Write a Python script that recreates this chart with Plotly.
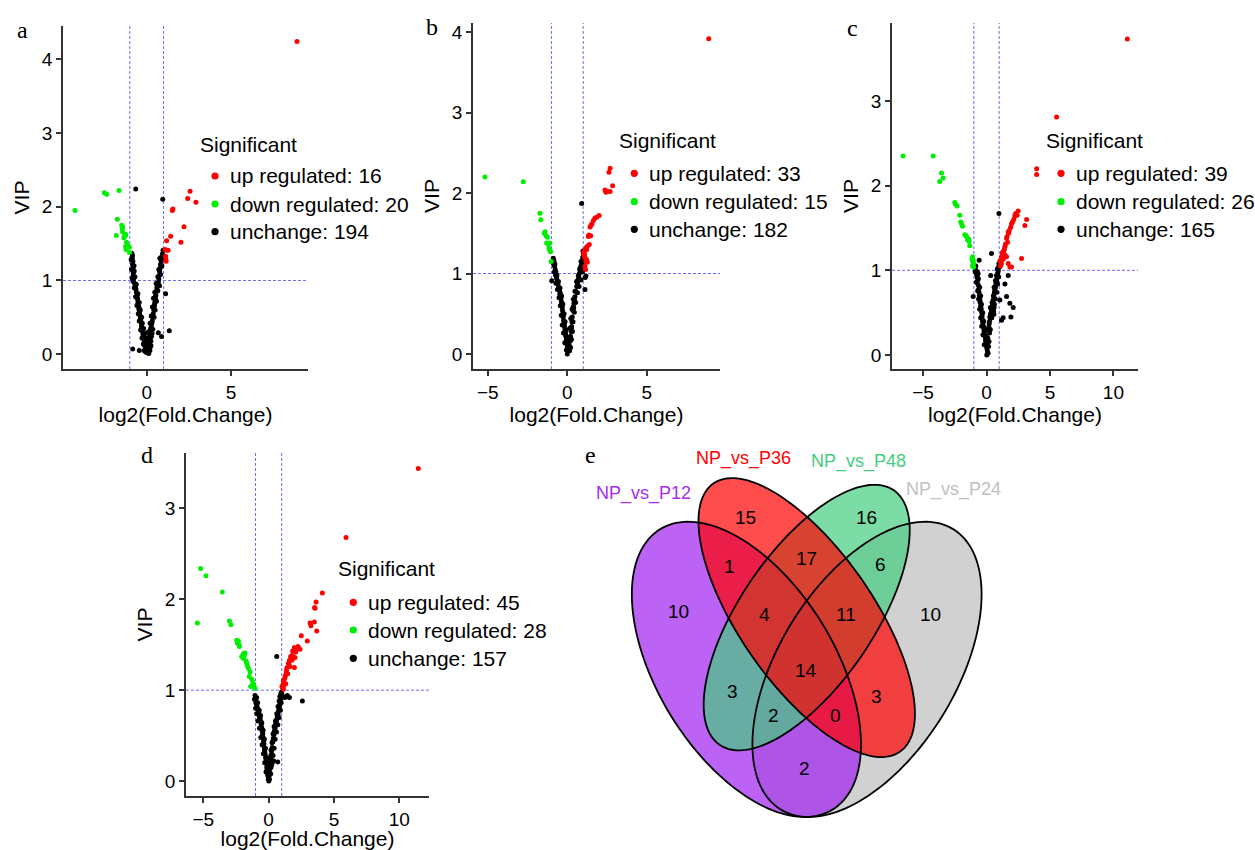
import math
import plotly.graph_objects as go

# ---------------- data ----------------
panel_letters = ["a", "b", "c", "d"]
up_counts = [16, 33, 39, 45]
down_counts = [20, 15, 26, 28]
unchange_counts = [194, 182, 165, 157]

# panel a
a_up_x = [8.91, 2.57, 2.43, 2.92, 1.52, 1.55, 2.21, 1.42, 2.03, 1.18, 1.15, 1.27, 1.13, 1.15, 1.09, 1.12]
a_up_y = [4.24, 2.21, 2.11, 2.06, 1.95, 1.97, 1.73, 1.60, 1.52, 1.54, 1.41, 1.41, 1.29, 1.26, 1.42, 1.33]
a_down_x = [-4.25, -2.51, -2.37, -1.64, -1.74, -1.48, -1.43, -1.80, -1.43, -1.31, -1.23, -1.35, -1.25, -1.23, -1.03, -1.02, -1.45, -1.30, -1.10, -1.20]
a_down_y = [1.95, 2.19, 2.17, 2.22, 1.83, 1.75, 1.73, 1.61, 1.66, 1.60, 1.62, 1.58, 1.46, 1.42, 1.45, 1.38, 1.70, 1.63, 1.47, 1.52]
a_unchanged = [
    (-0.65, 2.24), (0.95, 2.10), (1.12, 0.82), (1.34, 0.32), (0.88, 0.24), (-0.83, 0.07), (-0.44, 0.05), (0.69, 0.29),
    (-0.88, 1.37), (-0.84, 1.34), (-0.86, 1.30), (-0.82, 1.26), (-0.84, 1.22), (-0.80, 1.18), (-0.83, 1.14), (-0.79, 1.10),
    (-0.81, 1.06), (-0.77, 1.02), (-0.80, 0.99), (-0.72, 0.96), (-0.68, 0.92), (-0.64, 0.88), (-0.61, 0.84), (-0.58, 0.79),
    (-0.55, 0.75), (-0.52, 0.70), (-0.49, 0.66), (-0.46, 0.61), (-0.43, 0.57), (-0.40, 0.53), (-0.37, 0.48), (-0.34, 0.44),
    (-0.31, 0.40), (-0.28, 0.35), (-0.25, 0.31), (-0.22, 0.27), (-0.18, 0.23), (-0.15, 0.19), (-0.11, 0.15), (-0.08, 0.11),
    (-0.04, 0.08), (0.00, 0.05), (0.04, 0.02), (-0.36, 0.50), (-0.30, 0.37), (-0.20, 0.25), (-0.12, 0.12), (-0.45, 0.63),
    (-0.56, 0.77), (-0.66, 0.90), (0.02, 0.10), (0.08, 0.06), (-0.06, 0.03),
    (-0.92, 1.28), (-0.75, 1.20), (-0.90, 1.15), (-0.74, 1.13), (-0.86, 1.03), (-0.70, 1.05), (-0.62, 0.95), (-0.74, 0.90),
    (-0.52, 0.82), (-0.66, 0.78), (-0.44, 0.70), (-0.58, 0.66), (-0.38, 0.60), (-0.50, 0.55), (-0.30, 0.50), (-0.44, 0.45),
    (-0.26, 0.42), (-0.36, 0.33), (-0.18, 0.35), (-0.28, 0.22), (-0.10, 0.28), (-0.20, 0.14), (-0.02, 0.18), (0.10, 0.15),
    (0.22, 0.10), (0.25, 0.18), (-0.15, 0.05), (0.12, 0.01), (0.28, 0.24),
    (0.97, 1.41), (0.93, 1.36), (0.88, 1.32), (0.85, 1.27), (0.82, 1.22), (0.80, 1.17), (0.77, 1.12), (0.75, 1.07),
    (0.72, 1.02), (0.69, 0.98), (0.64, 0.94), (0.60, 0.90), (0.57, 0.85), (0.54, 0.80), (0.51, 0.75), (0.48, 0.70),
    (0.45, 0.65), (0.42, 0.60), (0.39, 0.55), (0.36, 0.50), (0.33, 0.45), (0.29, 0.40), (0.25, 0.36), (0.21, 0.31),
    (0.18, 0.27), (0.14, 0.22), (0.11, 0.18), (0.13, 0.13), (0.16, 0.09), (0.19, 0.05), (0.91, 1.29), (0.66, 0.96),
    (0.46, 0.67), (0.30, 0.42), (0.86, 1.20), (0.52, 0.78), (0.23, 0.34),
    (1.00, 1.33), (0.78, 1.30), (0.90, 1.20), (0.72, 1.15), (0.82, 1.08), (0.66, 1.05), (0.76, 0.93), (0.56, 0.96),
    (0.66, 0.86), (0.48, 0.84), (0.58, 0.72), (0.40, 0.76), (0.50, 0.60), (0.34, 0.64), (0.44, 0.50), (0.27, 0.52),
    (0.36, 0.34), (0.20, 0.42), (0.32, 0.28), (0.08, 0.30), (0.25, 0.12), (0.05, 0.22),
]

# panel b
b_up_x = [8.89, 2.69, 2.62, 2.85, 2.37, 2.52, 2.69, 2.43, 1.85, 1.74, 1.64, 1.49, 1.43, 1.36, 1.47, 1.32, 1.38, 1.26, 1.22, 1.11, 1.05, 1.01, 1.07, 1.13, 1.22, 1.17, 1.26, 1.11, 1.15, 2.00, 1.55, 1.08, 1.18]
b_up_y = [3.92, 2.31, 2.26, 2.09, 2.04, 2.02, 2.02, 2.01, 1.70, 1.69, 1.66, 1.60, 1.58, 1.48, 1.47, 1.46, 1.36, 1.34, 1.30, 1.29, 1.27, 1.25, 1.22, 1.19, 1.17, 1.15, 1.14, 1.09, 1.05, 1.72, 1.62, 1.24, 1.32]
b_down_x = [-5.18, -2.77, -1.72, -1.67, -1.40, -1.34, -1.25, -1.30, -1.19, -1.09, -1.15, -1.05, -1.02, -1.45, -1.10]
b_down_y = [2.20, 2.14, 1.75, 1.67, 1.52, 1.47, 1.45, 1.38, 1.36, 1.38, 1.31, 1.27, 1.15, 1.50, 1.29]
b_unchanged = [
    (0.90, 1.87), (-0.98, 0.91), (1.11, 0.80), (1.17, 0.97), (1.12, 0.95),
    (-0.88, 1.19), (-0.84, 1.16), (-0.86, 1.12), (-0.80, 1.09), (-0.76, 1.05), (-0.72, 1.02), (-0.74, 0.98), (-0.68, 0.94),
    (-0.63, 0.90), (-0.58, 0.86), (-0.55, 0.82), (-0.50, 0.79), (-0.45, 0.76), (-0.42, 0.73), (-0.40, 0.69), (-0.37, 0.65),
    (-0.34, 0.62), (-0.32, 0.58), (-0.30, 0.54), (-0.28, 0.50), (-0.26, 0.46), (-0.24, 0.42), (-0.21, 0.38), (-0.18, 0.34),
    (-0.15, 0.30), (-0.12, 0.26), (-0.09, 0.22), (-0.06, 0.18), (-0.03, 0.14), (0.00, 0.10), (0.03, 0.07), (0.06, 0.04),
    (0.00, 0.00), (-0.20, 0.36), (-0.27, 0.48), (-0.35, 0.60), (-0.47, 0.74), (-0.10, 0.24), (-0.02, 0.12), (0.09, 0.06),
    (-0.92, 1.14), (-0.78, 1.12), (-0.82, 1.02), (-0.66, 0.98), (-0.72, 0.88), (-0.56, 0.90), (-0.62, 0.80), (-0.46, 0.82),
    (-0.52, 0.70), (-0.36, 0.72), (-0.44, 0.60), (-0.28, 0.62), (-0.38, 0.48), (-0.20, 0.50), (-0.32, 0.36), (-0.14, 0.40),
    (-0.24, 0.26), (-0.08, 0.30), (-0.16, 0.14), (0.02, 0.20), (-0.06, 0.05), (0.10, 0.12),
    (1.01, 1.23), (0.97, 1.20), (0.93, 1.16), (0.90, 1.13), (0.85, 1.09), (0.80, 1.04), (0.76, 1.00), (0.72, 0.96),
    (0.69, 0.93), (0.64, 0.88), (0.59, 0.84), (0.54, 0.78), (0.48, 0.71), (0.45, 0.67), (0.42, 0.63), (0.38, 0.59),
    (0.35, 0.54), (0.31, 0.46), (0.29, 0.40), (0.27, 0.34), (0.24, 0.28), (0.20, 0.22), (0.18, 0.16), (0.16, 0.09),
    (0.14, 0.04), (0.96, 1.11), (0.88, 1.06), (0.66, 0.91), (0.40, 0.57), (0.25, 0.31),
    (0.98, 1.28), (1.05, 1.18), (0.86, 1.15), (0.95, 1.02), (0.78, 1.06), (0.86, 0.92), (0.70, 0.98), (0.74, 0.84),
    (0.58, 0.90), (0.64, 0.76), (0.48, 0.78), (0.52, 0.64), (0.38, 0.68), (0.44, 0.52), (0.30, 0.56), (0.36, 0.40),
    (0.22, 0.44), (0.32, 0.28), (0.16, 0.32), (0.26, 0.18), (0.10, 0.20), (0.20, 0.08),
]

# panel c
c_up_x = [11.10, 5.52, 3.95, 3.95, 2.49, 2.41, 2.23, 3.16, 3.02, 2.05, 1.97, 1.79, 1.71, 1.58, 1.66, 1.45, 1.37, 1.26, 1.18, 2.76, 1.05, 1.18, 1.32, 1.71, 1.84, 1.58, 1.97, 1.45, 1.12, 1.25, 1.50, 1.62, 1.75, 1.90, 2.15, 2.30, 1.10, 1.40, 1.20]
c_up_y = [3.73, 2.81, 2.20, 2.13, 1.70, 1.65, 1.64, 1.60, 1.53, 1.57, 1.55, 1.47, 1.45, 1.38, 1.33, 1.28, 1.23, 1.18, 1.16, 1.14, 1.11, 1.08, 1.13, 1.08, 1.04, 1.16, 1.04, 1.18, 1.10, 1.21, 1.31, 1.40, 1.44, 1.51, 1.60, 1.67, 1.05, 1.25, 1.14]
c_down_x = [-6.58, -4.21, -3.55, -3.42, -3.69, -2.50, -2.32, -2.11, -2.03, -1.89, -1.97, -1.71, -1.58, -1.50, -1.37, -1.32, -1.11, -1.05, -1.02, -1.11, -1.02, -1.08, -1.15, -1.40, -2.45, -1.62]
c_down_y = [2.35, 2.35, 2.15, 2.09, 2.05, 1.80, 1.76, 1.65, 1.57, 1.52, 1.55, 1.42, 1.40, 1.36, 1.34, 1.29, 1.16, 1.12, 1.08, 1.05, 1.04, 1.10, 1.13, 1.37, 1.78, 1.41]
c_unchanged = [
    (0.98, 1.67), (0.39, 1.20), (-0.58, 1.12), (-0.84, 1.05), (0.33, 0.94), (-1.05, 0.69), (1.71, 0.94), (1.45, 0.84),
    (1.58, 0.69), (1.05, 0.65), (1.84, 0.61), (2.10, 0.56), (1.92, 0.45), (1.18, 0.41), (1.31, 0.44), (-0.66, 0.96),
    (-0.84, 1.00), (-0.78, 0.95), (-0.74, 0.92), (-0.70, 0.88), (-0.66, 0.83), (-0.62, 0.78), (-0.59, 0.74), (-0.56, 0.70),
    (-0.53, 0.66), (-0.50, 0.62), (-0.46, 0.58), (-0.42, 0.54), (-0.38, 0.50), (-0.35, 0.46), (-0.32, 0.42), (-0.28, 0.38),
    (-0.24, 0.34), (-0.20, 0.30), (-0.16, 0.26), (-0.12, 0.22), (-0.08, 0.18), (-0.04, 0.14), (0.00, 0.10), (0.04, 0.07),
    (0.08, 0.04), (0.12, 0.02), (0.02, 0.00), (-0.45, 0.56), (-0.52, 0.64), (-0.30, 0.40), (-0.18, 0.28), (-0.05, 0.16),
    (0.06, 0.12), (0.10, 0.20), (0.14, 0.30),
    (-0.90, 0.98), (-0.72, 0.98), (-0.80, 0.86), (-0.64, 0.90), (-0.70, 0.76), (-0.54, 0.80), (-0.62, 0.66), (-0.46, 0.70),
    (-0.54, 0.54), (-0.40, 0.60), (-0.46, 0.44), (-0.30, 0.50), (-0.38, 0.34), (-0.22, 0.40), (-0.28, 0.24), (-0.12, 0.30),
    (-0.18, 0.12), (-0.02, 0.22), (0.16, 0.10), (0.20, 0.16), (0.24, 0.26),
    (0.98, 1.08), (0.95, 1.04), (0.92, 1.00), (0.88, 0.96), (0.84, 0.92), (0.80, 0.88), (0.74, 0.84), (0.70, 0.80),
    (0.66, 0.77), (0.62, 0.73), (0.58, 0.69), (0.52, 0.65), (0.47, 0.61), (0.43, 0.57), (0.39, 0.53), (0.33, 0.49),
    (0.26, 0.45), (0.21, 0.37), (0.18, 0.33), (0.55, 0.52), (0.48, 0.55), (0.40, 0.50), (0.60, 0.56), (0.35, 0.48),
    (0.90, 0.98), (0.76, 0.86), (0.64, 0.75),
    (1.02, 1.04), (0.86, 1.02), (0.96, 0.92), (0.78, 0.94), (0.88, 0.84), (0.70, 0.88), (0.80, 0.74), (0.60, 0.80),
    (0.70, 0.66), (0.54, 0.70), (0.62, 0.60), (0.44, 0.62), (0.52, 0.50), (0.30, 0.56), (0.42, 0.44), (0.24, 0.40),
    (0.30, 0.30), (0.58, 0.48),
]

# panel d
d_up_x = [11.45, 5.92, 4.11, 3.63, 3.52, 3.55, 3.17, 3.24, 3.50, 3.68, 2.50, 2.96, 1.97, 2.15, 2.27, 2.40, 1.84, 2.07, 1.69, 1.89, 2.02, 1.77, 1.51, 1.64, 1.38, 1.97, 1.46, 1.25, 1.13, 1.31, 1.18, 1.05, 1.13, 1.10, 1.20, 1.35, 1.55, 1.60, 1.80, 2.10, 2.25, 1.42, 1.72, 1.28, 1.02]
d_up_y = [3.44, 2.68, 2.07, 1.97, 1.91, 1.90, 1.74, 1.71, 1.75, 1.65, 1.60, 1.54, 1.47, 1.46, 1.46, 1.45, 1.43, 1.42, 1.37, 1.35, 1.36, 1.33, 1.29, 1.26, 1.23, 1.25, 1.18, 1.14, 1.10, 1.07, 1.05, 1.03, 1.01, 1.06, 1.12, 1.20, 1.30, 1.33, 1.38, 1.45, 1.48, 1.25, 1.35, 1.16, 1.04]
d_down_x = [-5.20, -4.79, -3.54, -5.45, -3.00, -2.88, -2.44, -2.39, -2.27, -2.24, -1.93, -1.81, -2.06, -1.93, -1.73, -1.63, -1.55, -1.42, -1.48, -1.29, -1.22, -1.12, -1.37, -1.04, -1.85, -1.68, -1.16, -2.32]
d_down_y = [2.34, 2.26, 2.08, 1.74, 1.76, 1.72, 1.55, 1.52, 1.50, 1.48, 1.40, 1.41, 1.37, 1.35, 1.32, 1.27, 1.24, 1.20, 1.15, 1.12, 1.09, 1.04, 1.04, 1.02, 1.38, 1.30, 1.07, 1.54]
d_unchanged = [
    (0.62, 1.37), (2.58, 0.88), (1.43, 0.94), (1.59, 0.92), (1.25, 0.92), (0.70, 0.21),
    (-1.04, 0.94), (-1.00, 0.91), (-0.96, 0.88), (-0.91, 0.84), (-0.86, 0.81), (-0.80, 0.78), (-0.75, 0.75), (-0.71, 0.72),
    (-0.66, 0.69), (-0.61, 0.66), (-0.57, 0.62), (-0.53, 0.59), (-0.49, 0.55), (-0.45, 0.52), (-0.42, 0.48), (-0.39, 0.44),
    (-0.36, 0.41), (-0.33, 0.37), (-0.30, 0.33), (-0.27, 0.30), (-0.23, 0.26), (-0.20, 0.23), (-0.17, 0.19), (-0.14, 0.15),
    (-0.10, 0.10), (-0.06, 0.06), (-0.02, 0.02), (0.02, 0.00), (-0.98, 0.86), (-0.68, 0.70), (-0.47, 0.50), (-0.31, 0.35),
    (-0.12, 0.12), (0.00, 0.04), (-0.08, 0.08),
    (-1.08, 0.90), (-0.92, 0.92), (-1.00, 0.80), (-0.84, 0.86), (-0.92, 0.74), (-0.72, 0.78), (-0.82, 0.66), (-0.62, 0.72),
    (-0.70, 0.58), (-0.52, 0.64), (-0.60, 0.48), (-0.42, 0.56), (-0.50, 0.40), (-0.32, 0.46), (-0.40, 0.30), (-0.24, 0.36),
    (-0.30, 0.20), (-0.14, 0.26), (-0.20, 0.10), (-0.04, 0.16), (0.06, 0.02), (0.08, 0.07),
    (0.99, 0.98), (0.95, 0.94), (0.92, 0.90), (0.87, 0.85), (0.82, 0.82), (0.77, 0.78), (0.72, 0.74), (0.67, 0.71),
    (0.62, 0.68), (0.58, 0.65), (0.54, 0.61), (0.49, 0.58), (0.44, 0.55), (0.40, 0.51), (0.36, 0.47), (0.31, 0.43),
    (0.27, 0.37), (0.23, 0.33), (0.19, 0.29), (0.15, 0.25), (0.12, 0.21), (0.10, 0.17), (0.07, 0.13), (0.05, 0.10),
    (0.97, 0.91), (0.80, 0.80), (0.52, 0.62), (0.33, 0.44), (0.25, 0.20), (0.32, 0.22), (0.18, 0.15), (0.88, 0.89),
    (0.93, 0.96),
    (1.03, 0.95), (0.86, 0.93), (0.96, 0.86), (0.80, 0.88), (0.90, 0.78), (0.72, 0.82), (0.80, 0.70), (0.62, 0.74),
    (0.70, 0.62), (0.52, 0.66), (0.60, 0.54), (0.42, 0.60), (0.50, 0.46), (0.34, 0.52), (0.42, 0.36), (0.26, 0.42),
    (0.34, 0.28), (0.18, 0.34), (0.24, 0.18), (0.12, 0.26), (0.16, 0.08), (0.40, 0.22),
]

x_tickvals = [[0, 5], [-5, 0, 5], [-5, 0, 5, 10], [-5, 0, 5, 10]]
y_tickvals = [[0, 1, 2, 3, 4], [0, 1, 2, 3, 4], [0, 1, 2, 3], [0, 1, 2, 3]]

# Venn
venn_sets = ["NP_vs_P12", "NP_vs_P36", "NP_vs_P48", "NP_vs_P24"]
venn_region_counts = [15, 16, 1, 17, 6, 10, 4, 11, 10, 14, 3, 3, 2, 0, 2]

# ---------------- layout helpers ----------------
W, H = 1255, 850
FONT = "Arial, Liberation Sans, sans-serif"
SERIF = "Times New Roman, Liberation Serif, serif"
RED = "#FF0000"
GREEN = "#00EE00"
BLACK = "#000000"
AXIS = "#333333"


def fx(px):
    return px / W


def fy(py):
    return 1 - py / H


# panel geometry (pixels) and axis ranges
panels = [
    dict(x=(63, 308), y=(26, 369), xr=(-4.96, 9.56), yr=(-0.20, 4.45),
         letter=(22, 30), leg=(198, 144, 215, 227.7, [176, 204, 231.7])),
    dict(x=(473, 720), y=(23, 369), xr=(-5.93, 9.60), yr=(-0.187, 4.115),
         letter=(432, 27), leg=(617.3, 140.7, 634.3, 647.3, [173.3, 201.7, 229.3])),
    dict(x=(892, 1138), y=(23, 369), xr=(-7.45, 11.94), yr=(-0.165, 3.92),
         letter=(852, 28), leg=(1044.3, 140.7, 1061, 1074, [173.3, 201.7, 229.3])),
    dict(x=(186, 429), y=(453, 796), xr=(-6.32, 12.27), yr=(-0.165, 3.61),
         letter=(147, 455), leg=(336, 568.3, 353.3, 366, [602.3, 630, 658.3])),
]

data = [
    (a_up_x, a_up_y, a_down_x, a_down_y, a_unchanged),
    (b_up_x, b_up_y, b_down_x, b_down_y, b_unchanged),
    (c_up_x, c_up_y, c_down_x, c_down_y, c_unchanged),
    (d_up_x, d_up_y, d_down_x, d_down_y, d_unchanged),
]

fig = go.Figure()
shapes = []
annotations = []
layout_axes = {}

for i, (p, dset) in enumerate(zip(panels, data)):
    k = "" if i == 0 else str(i + 1)
    xa, ya = "x" + k, "y" + k
    up_x, up_y, dn_x, dn_y, unch = dset
    nc_x = [pt[0] for pt in unch]
    nc_y = [pt[1] for pt in unch]
    mk = dict(size=5, line=dict(width=0))
    fig.add_trace(go.Scatter(x=nc_x, y=nc_y, mode="markers", xaxis=xa, yaxis=ya,
                             marker=dict(color=BLACK, **mk), showlegend=False, hoverinfo="x+y"))
    fig.add_trace(go.Scatter(x=dn_x, y=dn_y, mode="markers", xaxis=xa, yaxis=ya,
                             marker=dict(color=GREEN, **mk), showlegend=False, hoverinfo="x+y"))
    fig.add_trace(go.Scatter(x=up_x, y=up_y, mode="markers", xaxis=xa, yaxis=ya,
                             marker=dict(color=RED, **mk), showlegend=False, hoverinfo="x+y"))

    common = dict(showline=True, linecolor=AXIS, linewidth=1.5, ticks="outside", ticklen=5,
                  tickwidth=1.5, tickcolor=AXIS, showgrid=False, zeroline=False, mirror=False,
                  tickfont=dict(family=FONT, size=19, color=BLACK))
    layout_axes["xaxis" + k] = dict(
        domain=[fx(p["x"][0]), fx(p["x"][1])], range=list(p["xr"]), anchor=ya,
        tickvals=x_tickvals[i],
        title=dict(text="log2(Fold.Change)", font=dict(family=FONT, size=21, color=BLACK), standoff=5),
        **common)
    layout_axes["yaxis" + k] = dict(
        domain=[fy(p["y"][1]), fy(p["y"][0])], range=list(p["yr"]), anchor=xa,
        tickvals=y_tickvals[i],
        title=dict(text="VIP", font=dict(family=FONT, size=21, color=BLACK), standoff=7),
        **common)

    dash_line = dict(color="rgba(80,80,255,0.85)", width=1, dash="3px,2px")
    for xv in (-1, 1):
        shapes.append(dict(type="line", xref=xa, yref=ya + " domain", x0=xv, x1=xv, y0=0, y1=1,
                           line=dash_line, layer="below"))
    shapes.append(dict(type="line", xref=xa + " domain", yref=ya, x0=0, x1=1, y0=1, y1=1,
                       line=dash_line, layer="below"))

    # panel letter
    annotations.append(dict(text=panel_letters[i], x=fx(p["letter"][0]), y=fy(p["letter"][1]),
                            xref="paper", yref="paper", showarrow=False, xanchor="center", yanchor="middle",
                            font=dict(family=SERIF, size=24, color=BLACK)))

    # legend (title + items)
    tx, ty, mx, txt_x, item_y = p["leg"]
    annotations.append(dict(text="Significant", x=fx(tx), y=fy(ty), xref="paper", yref="paper",
                            showarrow=False, xanchor="left", yanchor="middle",
                            font=dict(family=FONT, size=21, color=BLACK)))
    labels = [f"up regulated: {up_counts[i]}", f"down regulated: {down_counts[i]}",
              f"unchange: {unchange_counts[i]}"]
    for lab, col, yy in zip(labels, [RED, GREEN, BLACK], item_y):
        r = 3.6
        shapes.append(dict(type="circle", xref="paper", yref="paper",
                           x0=fx(mx - r), x1=fx(mx + r), y0=fy(yy + r), y1=fy(yy - r),
                           fillcolor=col, line=dict(width=0)))
        annotations.append(dict(text=lab, x=fx(txt_x), y=fy(yy), xref="paper", yref="paper",
                                showarrow=False, xanchor="left", yanchor="middle",
                                font=dict(family=FONT, size=21, color=BLACK)))

# ---------------- Venn diagram ----------------
VX0, VSX = 806.7, 402.0   # pixel x of u=0.5, pixels per unit
VY0, VSY = 817.0, 518.0   # pixel y of v=0.185, pixels per unit


def venn_px(u, v):
    return VX0 + (u - 0.5) * VSX, VY0 - (v - 0.185) * VSY


def ellipse_path(cx, cy, a, b, deg, n=160):
    th = math.radians(deg)
    pts = []
    for j in range(n):
        t = 2 * math.pi * j / n
        u = cx + a * math.cos(t) * math.cos(th) - b * math.sin(t) * math.sin(th)
        v = cy + a * math.cos(t) * math.sin(th) + b * math.sin(t) * math.cos(th)
        px, py = venn_px(u, v)
        pts.append(f"{fx(px):.5f},{fy(py):.5f}")
    return "M " + " L ".join(pts) + " Z"


venn_geom = {
    "NP_vs_P12": (0.35, 0.47, 0.35, 0.20, 135),
    "NP_vs_P36": (0.50, 0.57, 0.35, 0.15, 135),
    "NP_vs_P48": (0.50, 0.57, 0.33, 0.15, 45),
    "NP_vs_P24": (0.65, 0.47, 0.35, 0.20, 45),
}
venn_fill = {
    "NP_vs_P12": (160, 32, 240),
    "NP_vs_P36": (255, 0, 0),
    "NP_vs_P48": (67, 205, 128),
    "NP_vs_P24": (190, 190, 190),
}
venn_label_col = {
    "NP_vs_P12": "rgb(165,45,238)",
    "NP_vs_P36": "rgb(255,0,0)",
    "NP_vs_P48": "rgb(67,205,128)",
    "NP_vs_P24": "rgb(192,192,192)",
}
venn_label_pos = {
    "NP_vs_P12": (643.3, 493.3),
    "NP_vs_P36": (743.3, 458.3),
    "NP_vs_P48": (858.3, 461.7),
    "NP_vs_P24": (953.3, 489.3),
}
draw_order = ["NP_vs_P24", "NP_vs_P12", "NP_vs_P48", "NP_vs_P36"]

for name in draw_order:
    r_, g_, b_ = venn_fill[name]
    shapes.append(dict(type="path", xref="paper", yref="paper", path=ellipse_path(*venn_geom[name]),
                       fillcolor=f"rgba({r_},{g_},{b_},0.7)", line=dict(width=0), layer="above"))
for name in draw_order:
    shapes.append(dict(type="path", xref="paper", yref="paper", path=ellipse_path(*venn_geom[name]),
                       fillcolor="rgba(0,0,0,0)", line=dict(color="black", width=1.8), layer="above"))

for name in venn_sets:
    lx, ly = venn_label_pos[name]
    annotations.append(dict(text=name, x=fx(lx), y=fy(ly), xref="paper", yref="paper", showarrow=False,
                            xanchor="center", yanchor="middle",
                            font=dict(family=FONT, size=18, color=venn_label_col[name])))

region_pos = [(745, 517.3), (866, 517.3), (729, 566.7), (806, 558.3), (881, 564), (678.3, 611.7),
              (764.3, 614), (845.7, 614), (930, 614), (806, 670), (732.3, 691.7), (876.7, 696),
              (773.3, 715), (835, 715), (804, 768.3)]
for cnt, (rx, ry) in zip(venn_region_counts, region_pos):
    annotations.append(dict(text=str(cnt), x=fx(rx), y=fy(ry), xref="paper", yref="paper", showarrow=False,
                            xanchor="center", yanchor="middle",
                            font=dict(family=FONT, size=19, color=BLACK)))

annotations.append(dict(text="e", x=fx(590), y=fy(455), xref="paper", yref="paper", showarrow=False,
                        xanchor="center", yanchor="middle", font=dict(family=SERIF, size=24, color=BLACK)))

fig.update_layout(
    width=W, height=H, margin=dict(l=0, r=0, t=0, b=0, autoexpand=False),
    paper_bgcolor="white", plot_bgcolor="white",
    showlegend=False, shapes=shapes, annotations=annotations,
    font=dict(family=FONT, size=20, color=BLACK),
    **layout_axes,
)

fig.write_html("out.html", config={"displayModeBar": False},
               post_script="document.body.style.margin='0';")
